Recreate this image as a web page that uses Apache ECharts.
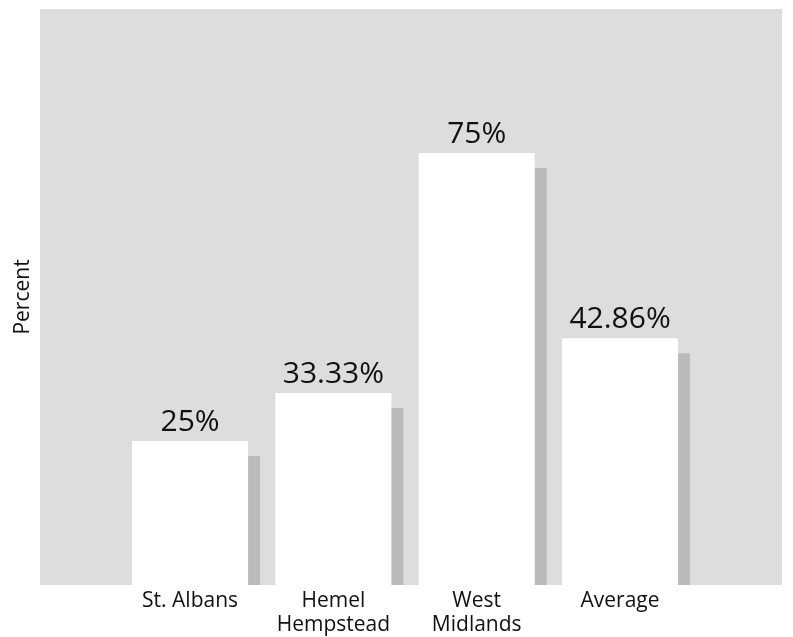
<!DOCTYPE html>
<html>
<head>
<meta charset="utf-8">
<script src="https://cdn.jsdelivr.net/npm/echarts@6/dist/echarts.min.js"></script>
<style>html,body{margin:0;padding:0;background:#fff}#c{width:793px;height:637px}</style>
</head>
<body>
<div id="c"></div>
<script>
const categories = ['St. Albans', 'Hemel\nHempstead', 'West\nMidlands', 'Average'];
const values = [25, 33.33, 75, 42.86];
const valueLabels = ['25%', '33.33%', '75%', '42.86%'];
const yAxisTitle = 'Percent';
const yMin = 0, yMax = 100;

const FONT = '"Open Sans", sans-serif';
const chart = echarts.init(document.getElementById('c'), null, {renderer: 'canvas'});
chart.setOption({
  animation: false,
  grid: [
    {left: 40, right: 11, top: 9, bottom: 52, show: true, backgroundColor: '#dddddd', borderWidth: 0, z: 0, outerBoundsMode: 'none', containLabel: false},
    {left: 118.4, right: 101.3, top: 9, bottom: 52, outerBoundsMode: 'none', containLabel: false}
  ],
  xAxis: [
    {gridIndex: 0, type: 'category', data: [''], show: false},
    {gridIndex: 1, type: 'category', data: categories, z: 10,
     axisLine: {show: false}, axisTick: {show: false},
     axisLabel: {fontFamily: FONT, fontSize: 21, color: '#111', margin: 4, lineHeight: 24, interval: 0}}
  ],
  yAxis: [
    {gridIndex: 0, type: 'value', min: yMin, max: yMax, name: yAxisTitle, nameLocation: 'middle', nameGap: 6,
     nameTextStyle: {fontFamily: FONT, fontSize: 21, color: '#111'},
     axisLine: {show: false}, axisTick: {show: false}, axisLabel: {show: false}, splitLine: {show: false}},
    {gridIndex: 1, type: 'value', min: yMin, max: yMax, show: false, splitLine: {show: false}}
  ],
  graphic: [
    {type: 'rect', z: 5, shape: {x: 40, y: 585, width: 753, height: 20}, style: {fill: '#ffffff'}}
  ],
  series: [{
    type: 'bar', xAxisIndex: 1, yAxisIndex: 1, data: values, barWidth: 116, z: 2,
    itemStyle: {color: '#ffffff', shadowColor: '#bbbbbb', shadowOffsetX: 12, shadowOffsetY: 15, shadowBlur: 0},
    label: {show: true, position: 'top', distance: 4, fontFamily: FONT, fontSize: 30, color: '#111',
      formatter: p => valueLabels[p.dataIndex]}
  }]
});
</script>
</body>
</html>
